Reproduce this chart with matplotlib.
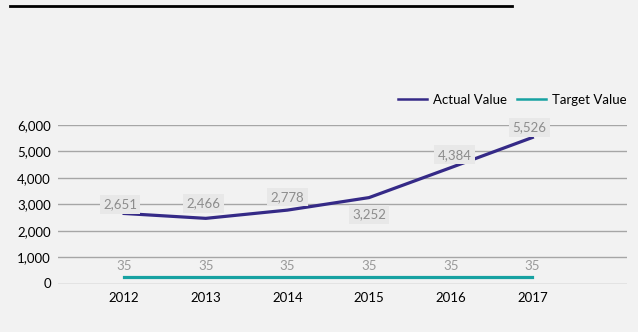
import matplotlib
matplotlib.use('Agg')
import matplotlib.pyplot as plt
from matplotlib.lines import Line2D

plt.rcParams['font.family'] = ['Lato', 'DejaVu Sans']

years = ['2012', '2013', '2014', '2015', '2016', '2017']
actual = [2651, 2466, 2778, 3252, 4384, 5526]
target = [35, 35, 35, 35, 35, 35]

# label offsets in pixels (dx, dy) for the actual series
actual_dx = [-4, -2, 0, 0, 4, -3]
actual_dy = [9, 15, 13, -17, 13, 10]

bg = '#f2f2f2'
fig = plt.figure(figsize=(6.38, 3.32), dpi=100, facecolor=bg)
ax = fig.add_axes([58/638, 1-283.5/332, (627-58)/638, (283.5-125)/332])
ax.set_facecolor(bg)
ax2 = ax.twinx()

x = list(range(len(years)))
l1, = ax.plot(x, actual, color='#352a87', lw=2.3, zorder=5)
l2, = ax2.plot(x, target, color='#17a2a2', lw=2.3, zorder=5)

ax.set_xlim(-0.81, 6.16)
ax.set_ylim(0, 6000)
ax2.set_ylim(0, 800)
ax.set_yticks(range(0, 6001, 1000))
ax.set_yticklabels([f'{v:,}' for v in range(0, 6001, 1000)])
ax.set_xticks(x)
ax.set_xticklabels(years)
ax.grid(axis='y', color='#a6a6a6', lw=1)
ax.set_axisbelow(True)
ax.tick_params(length=0, labelsize=9.5, colors='black')
ax.tick_params(axis='y', pad=5)
ax.tick_params(axis='x', pad=6)
ax2.set_yticks([])
for a in (ax, ax2):
    for s in a.spines.values():
        s.set_visible(False)

for xi, v, dx, dy in zip(x, actual, actual_dx, actual_dy):
    ax.annotate(f'{v:,}', (xi, v), xytext=(dx, dy), textcoords='offset pixels',
                ha='center', va='center', fontsize=9.5, color='#8c8c8c', zorder=6,
                bbox=dict(boxstyle='square,pad=0.25', fc='#e8e8e8', ec='none'))
for xi, v in zip(x, target):
    ax2.annotate(f'{v:,}', (xi, v), xytext=(0, 11), textcoords='offset pixels',
                 ha='center', va='center', fontsize=9.5, color='#999999')

leg = fig.legend([l1, l2], ['Actual Value', 'Target Value'], loc='center right',
                 bbox_to_anchor=(638/638, 1-100/332), ncol=2, frameon=False,
                 fontsize=9.5, handlelength=2.2, handletextpad=0.4, columnspacing=0.8)
for h in leg.get_lines():
    h.set_linewidth(1.8)

fig.add_artist(Line2D([10/638, 512/638], [1-6/332, 1-6/332], color='black', lw=2))

fig.savefig('out.png', dpi=100, facecolor=bg)
